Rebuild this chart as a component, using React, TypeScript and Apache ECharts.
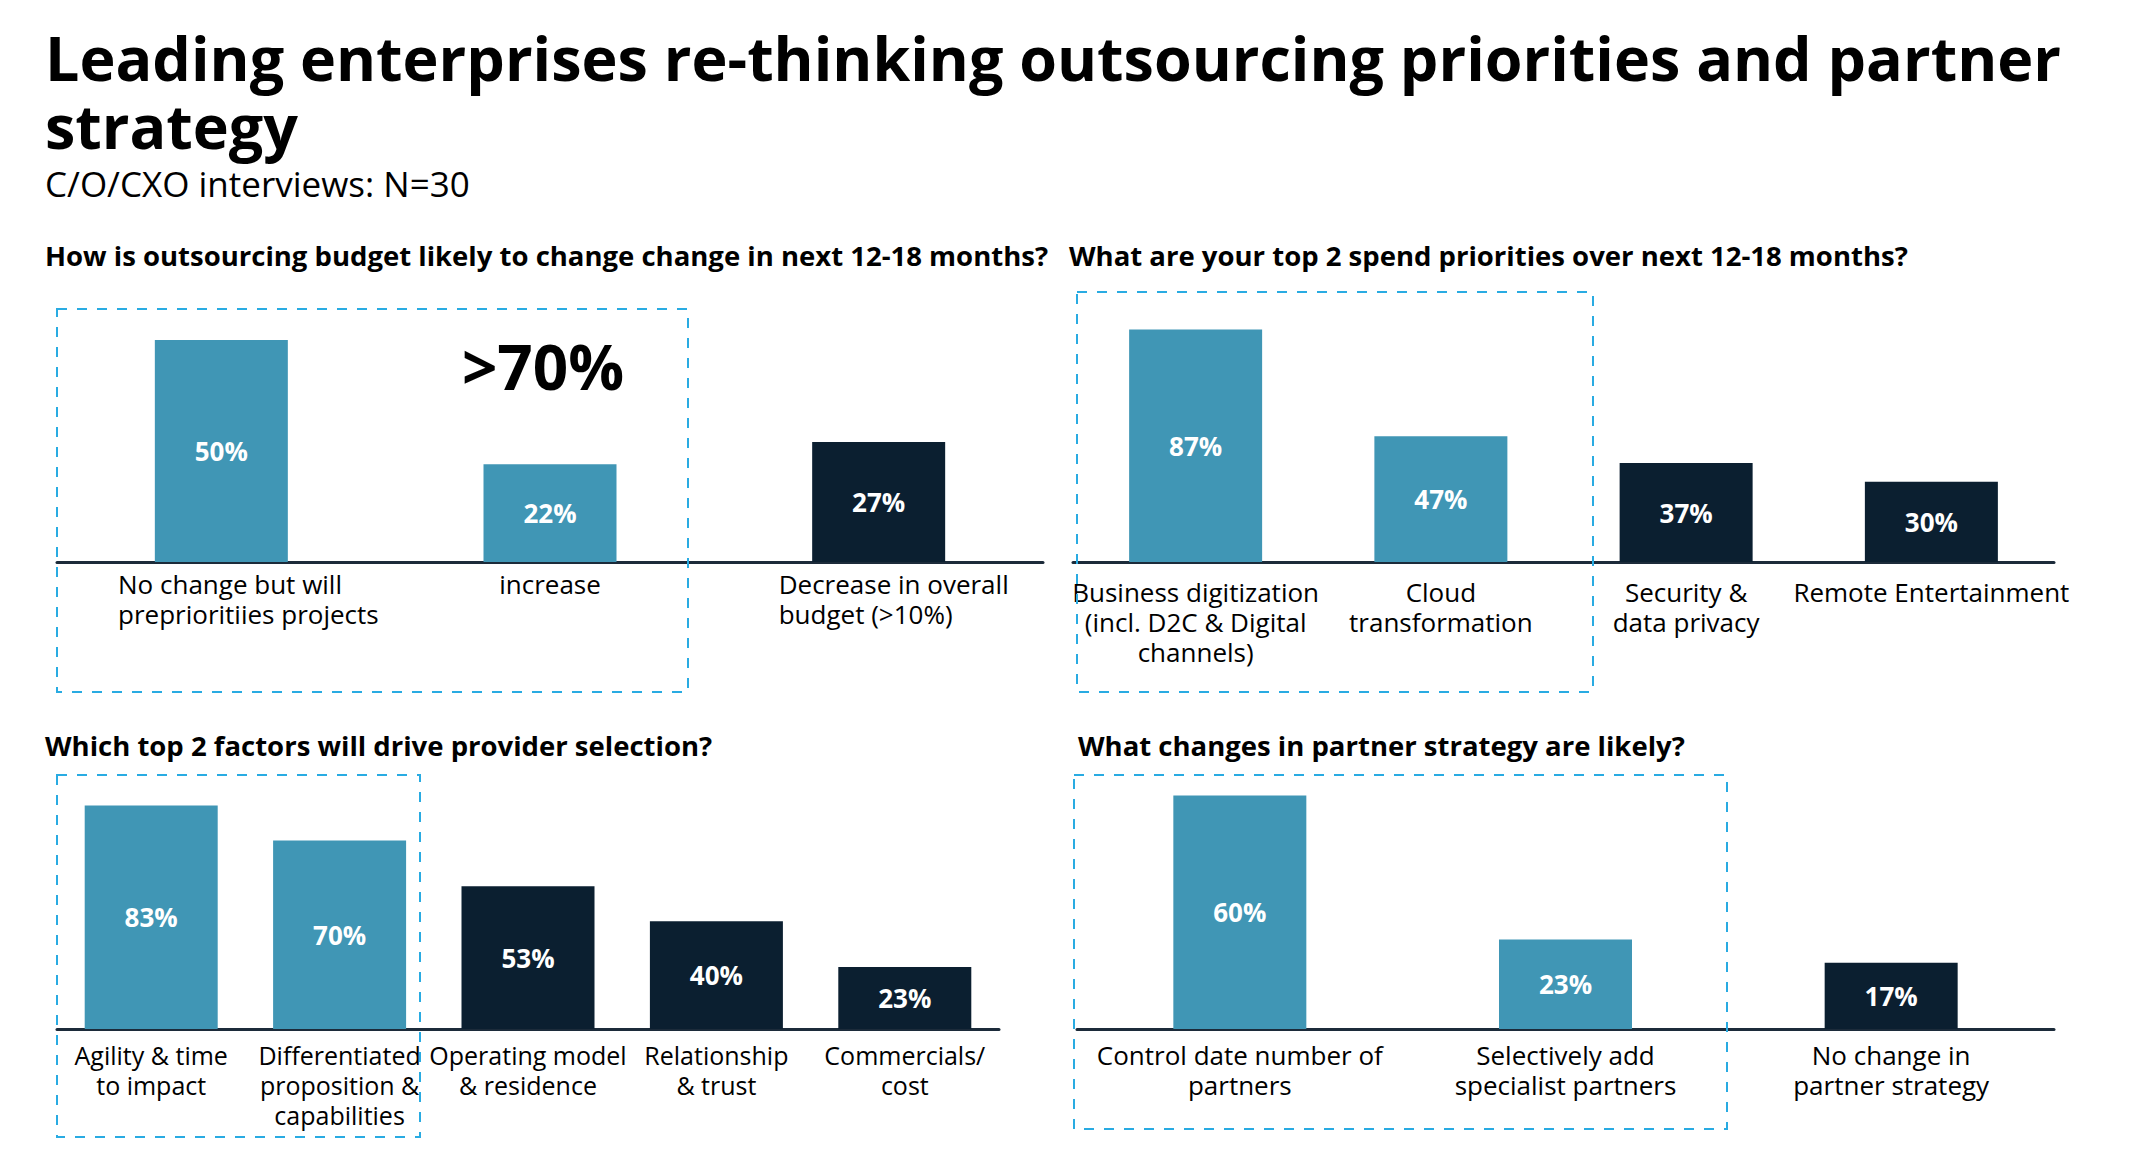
import React, { useEffect, useRef } from "react";
import * as echarts from "echarts";

const budgetCategories = ["No change but will\npreprioritiies projects", "increase", "Decrease in overall\nbudget (>10%)"];
const budgetValues = [50, 22, 27];

const spendCategories = ["Business digitization\n(incl. D2C & Digital\nchannels)", "Cloud\ntransformation", "Security &\ndata privacy", "Remote Entertainment"];
const spendValues = [87, 47, 37, 30];

const factorCategories = ["Agility & time\nto impact", "Differentiated\nproposition &\ncapabilities", "Operating model\n& residence", "Relationship\n& trust", "Commercials/\ncost"];
const factorValues = [83, 70, 53, 40, 23];

const partnerCategories = ["Control date number of\npartners", "Selectively add\nspecialist partners", "No change in\npartner strategy"];
const partnerValues = [60, 23, 17];

const TEAL = "#4096b5";
const NAVY = "#0b1f30";
const DASH = "#29abe2";
const FONT = "'Open Sans', 'Noto Sans', sans-serif";

function barSeries(values: number[], highlighted: number, idx: number) {
  return {
    type: "bar",
    xAxisIndex: idx,
    yAxisIndex: idx,
    barWidth: 133,
    data: values.map((v, i) => ({
      value: v,
      itemStyle: { color: i < highlighted ? TEAL : NAVY },
    })),
    label: {
      show: true,
      position: "inside",
      formatter: (p: any) => p.value + "%",
      color: "#ffffff",
      fontFamily: FONT,
      fontWeight: "bold",
      fontSize: 26,
    },
  };
}

function xAxis(cats: string[], idx: number, margin: number, size: number, leftPads: number[] | null) {
  const rich: any = {};
  if (leftPads) {
    leftPads.forEach((p, i) => {
      rich["l" + i] = {
        align: "left",
        fontFamily: FONT,
        fontSize: size,
        lineHeight: 30,
        color: "#000000",
        padding: [0, 0, 0, p],
      };
    });
  }
  return {
    type: "category",
    gridIndex: idx,
    data: cats,
    axisTick: { show: false },
    axisLine: { show: true, lineStyle: { color: "#1c2b3a", width: 3 } },
    axisLabel: {
      interval: 0,
      margin,
      color: "#000000",
      fontFamily: FONT,
      fontSize: size,
      lineHeight: 30,
      align: "center",
      formatter: leftPads
        ? (v: string, i: number) => v.split("\n").map((l) => "{l" + i + "|" + l + "}").join("\n")
        : undefined,
      rich: leftPads ? rich : undefined,
    },
  };
}

function yAxis(idx: number, max: number) {
  return {
    type: "value",
    gridIndex: idx,
    min: 0,
    max,
    show: false,
    splitLine: { show: false },
  };
}

function text(x: number, y: number, t: string, size: number, bold: boolean, align = "left") {
  return {
    type: "text",
    x,
    y,
    silent: true,
    style: {
      text: t,
      fontFamily: FONT,
      fontSize: size,
      fontWeight: bold ? "bold" : "normal",
      fill: "#000000",
      align,
      verticalAlign: "middle",
    },
  };
}

function dashedBox(x1: number, y1: number, x2: number, y2: number) {
  return {
    type: "rect",
    silent: true,
    z: 10,
    shape: { x: x1, y: y1, width: x2 - x1, height: y2 - y1 },
    style: { fill: "none", stroke: DASH, lineWidth: 2, lineDash: [10, 10] },
  };
}

export default function App() {
  const ref = useRef<HTMLDivElement>(null);
  useEffect(() => {
    document.body.style.margin = "0";
    if (!ref.current) return;
    const chart = echarts.init(ref.current, null, { renderer: "svg" });
    chart.setOption({
      animation: false,
      backgroundColor: "#ffffff",
      grid: [
        { left: 57, right: 1103, top: 300, bottom: 610 },
        { left: 1073, right: 92, top: 300, bottom: 610 },
        { left: 57, right: 1147, top: 800, bottom: 143 },
        { left: 1077, right: 92, top: 780, bottom: 143 },
      ],
      xAxis: [
        xAxis(budgetCategories, 0, 7, 26, [54, 0, 30]),
        xAxis(spendCategories, 1, 15, 26, null),
        xAxis(factorCategories, 2, 11, 25, null),
        xAxis(partnerCategories, 3, 11, 26, null),
      ],
      yAxis: [yAxis(0, 59), yAxis(1, 98), yAxis(2, 85), yAxis(3, 64)],
      series: [
        barSeries(budgetValues, 2, 0),
        barSeries(spendValues, 2, 1),
        barSeries(factorValues, 2, 2),
        barSeries(partnerValues, 2, 3),
      ],
      graphic: [
        text(45, 57, "Leading enterprises re-thinking outsourcing priorities and partner", 61, true),
        text(45, 125, "strategy", 61, true),
        text(45, 183, "C/O/CXO interviews: N=30", 35, false),
        text(45, 255, "How is outsourcing budget likely to change change in next 12-18 months?", 27.5, true),
        text(1069, 255, "What are your top 2 spend priorities over next 12-18 months?", 27.5, true),
        text(45, 745, "Which top 2 factors will drive provider selection?", 27.5, true),
        text(1078, 745, "What changes in partner strategy are likely?", 27.5, true),
        text(543, 366, ">70%", 62, true, "center"),
        dashedBox(57, 309, 688, 692),
        dashedBox(1077, 292, 1593, 692),
        dashedBox(57, 775, 420, 1137),
        dashedBox(1074, 775, 1727, 1129),
      ],
    });
    return () => chart.dispose();
  }, []);
  return <div ref={ref} style={{ width: 2146, height: 1172 }} />;
}
